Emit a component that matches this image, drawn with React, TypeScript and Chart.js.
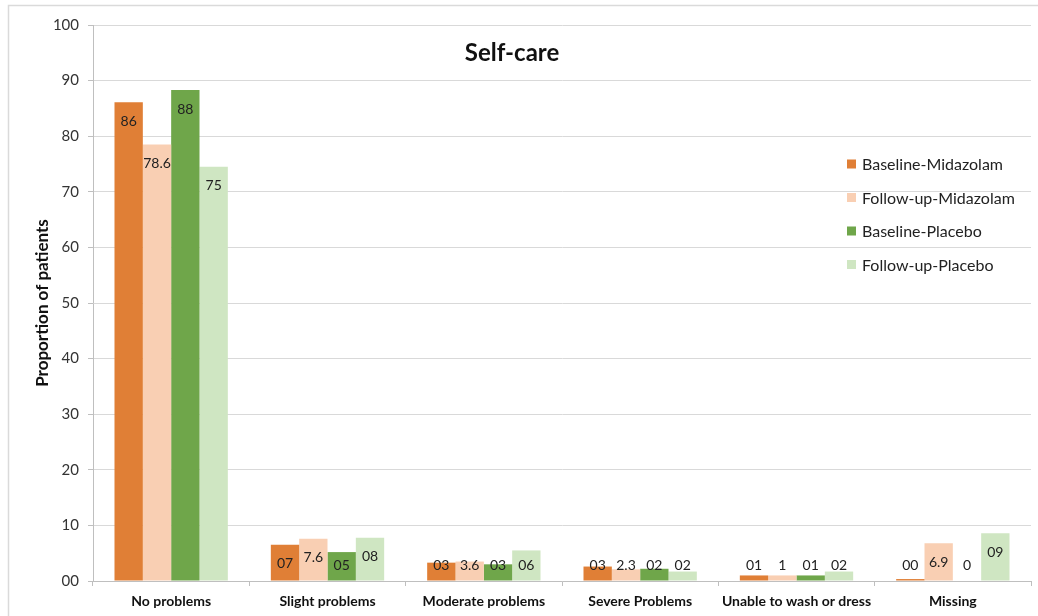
import React, { useEffect, useRef } from "react";
import { Chart, registerables } from "chart.js";

Chart.register(...registerables);

const categories = [
  "No problems",
  "Slight problems",
  "Moderate problems",
  "Severe Problems",
  "Unable to wash or dress",
  "Missing",
];

const seriesNames = [
  "Baseline-Midazolam",
  "Follow-up-Midazolam",
  "Baseline-Placebo",
  "Follow-up-Placebo",
];

const baselineMidazolam = [86.1, 6.5, 3.3, 2.6, 1.0, 0.35];
const followupMidazolam = [78.5, 7.6, 3.5, 2.1, 1.0, 6.8];
const baselinePlacebo = [88.3, 5.2, 3.0, 2.2, 1.0, 0];
const followupPlacebo = [74.5, 7.8, 5.5, 1.7, 1.7, 8.6];

const baselineMidazolamLabels = ["86", "07", "03", "03", "01", "00"];
const followupMidazolamLabels = ["78.6", "7.6", "3.6", "2.3", "1", "6.9"];
const baselinePlaceboLabels = ["88", "05", "03", "02", "01", "0"];
const followupPlaceboLabels = ["75", "08", "06", "02", "02", "09"];

const seriesColors = ["#E07F36", "#F9CFB3", "#6FA64A", "#CFE6C2"];

const yTicks = [0, 10, 20, 30, 40, 50, 60, 70, 80, 90, 100];

const FONT = "Lato, 'Open Sans', sans-serif";

const decorPlugin = {
  id: "decor",
  beforeDraw(chart: any) {
    const ctx = chart.ctx;
    ctx.save();
    ctx.fillStyle = "#ffffff";
    ctx.fillRect(0, 0, chart.width, chart.height);
    ctx.strokeStyle = "#dadada";
    ctx.lineWidth = 1.5;
    ctx.beginPath();
    ctx.moveTo(8.5, chart.height);
    ctx.lineTo(8.5, 5.5);
    ctx.lineTo(chart.width, 5.5);
    ctx.stroke();
    ctx.restore();
  },
  afterDraw(chart: any) {
    const ctx = chart.ctx;
    const area = chart.chartArea;
    ctx.save();
    // title
    ctx.fillStyle = "#111111";
    ctx.font = `bold 24px ${FONT}`;
    ctx.textAlign = "center";
    ctx.textBaseline = "middle";
    ctx.fillText("Self-care", chart.width / 2 - 7, area.top + 28);

    // data labels
    const yScale = chart.scales.y;
    const zeroY = yScale.getPixelForValue(0);
    ctx.font = `14px ${FONT}`;
    ctx.fillStyle = "#222222";
    chart.data.datasets.forEach((ds: any, di: number) => {
      const meta = chart.getDatasetMeta(di);
      meta.data.forEach((el: any, i: number) => {
        const y = Math.min(el.y + 19, zeroY - 16);
        ctx.fillText(ds.valueLabels[i], el.x, y);
      });
    });

    // legend
    ctx.font = `16px ${FONT}`;
    ctx.textAlign = "left";
    const lx = area.right - 184;
    const ly = area.top + 139;
    chart.data.datasets.forEach((ds: any, di: number) => {
      const cy = ly + di * 33.5;
      ctx.fillStyle = ds.backgroundColor;
      ctx.fillRect(lx, cy - 4.5, 9, 9);
      ctx.fillStyle = "#222222";
      ctx.fillText(ds.label, lx + 15, cy + 1);
    });
    ctx.restore();
  },
};

export default function App() {
  const canvasRef = useRef<HTMLCanvasElement | null>(null);

  useEffect(() => {
    if (!canvasRef.current) return;
    const seriesValues = [
      baselineMidazolam,
      followupMidazolam,
      baselinePlacebo,
      followupPlacebo,
    ];
    const seriesLabels = [
      baselineMidazolamLabels,
      followupMidazolamLabels,
      baselinePlaceboLabels,
      followupPlaceboLabels,
    ];
    const chart = new Chart(canvasRef.current, {
      type: "bar",
      data: {
        labels: categories,
        datasets: seriesNames.map((name, i) => ({
          label: name,
          data: seriesValues[i],
          valueLabels: seriesLabels[i],
          backgroundColor: seriesColors[i],
          borderWidth: 0,
          categoryPercentage: 0.725,
          barPercentage: 1,
        })) as any,
      },
      options: {
        animation: false,
        responsive: false,
        devicePixelRatio: 1,
        layout: { padding: { left: 0, top: 25, right: 7, bottom: 0 } },
        plugins: {
          legend: { display: false },
          title: { display: false },
          tooltip: { enabled: false },
        },
        scales: {
          x: {
            afterFit: (s: any) => {
              s.height = 35;
            },
            grid: {
              offset: true,
              drawOnChartArea: false,
              drawTicks: true,
              tickLength: 5,
              color: "#bfbfbf",
            },
            border: { color: "#bfbfbf", width: 1 },
            ticks: {
              padding: 7,
              color: "#111111",
              font: { family: FONT, size: 14, weight: "bold" },
              maxRotation: 0,
              autoSkip: false,
            },
          },
          y: {
            min: 0,
            max: 100,
            afterFit: (s: any) => {
              s.width = 93;
            },
            afterBuildTicks: (s: any) => {
              s.ticks = yTicks.map((v) => ({ value: v }));
            },
            grid: {
              color: "#d9d9d9",
              tickLength: 5,
              tickColor: "#bfbfbf",
            },
            border: { color: "#bfbfbf", width: 1 },
            ticks: {
              padding: 9,
              color: "#333333",
              font: { family: FONT, size: 15 },
              callback: (v: any) => (Number(v) === 0 ? "00" : String(v)),
            },
            title: {
              display: true,
              text: "Proportion of patients",
              color: "#111111",
              font: { family: FONT, size: 17, weight: "bold" },
              padding: { top: 32, bottom: 0 },
            },
          },
        },
      },
      plugins: [decorPlugin],
    });
    return () => chart.destroy();
  }, []);

  return (
    <div style={{ position: "absolute", left: 0, top: 0, width: 1038, height: 616 }}>
      <canvas ref={canvasRef} width={1038} height={616} />
    </div>
  );
}
